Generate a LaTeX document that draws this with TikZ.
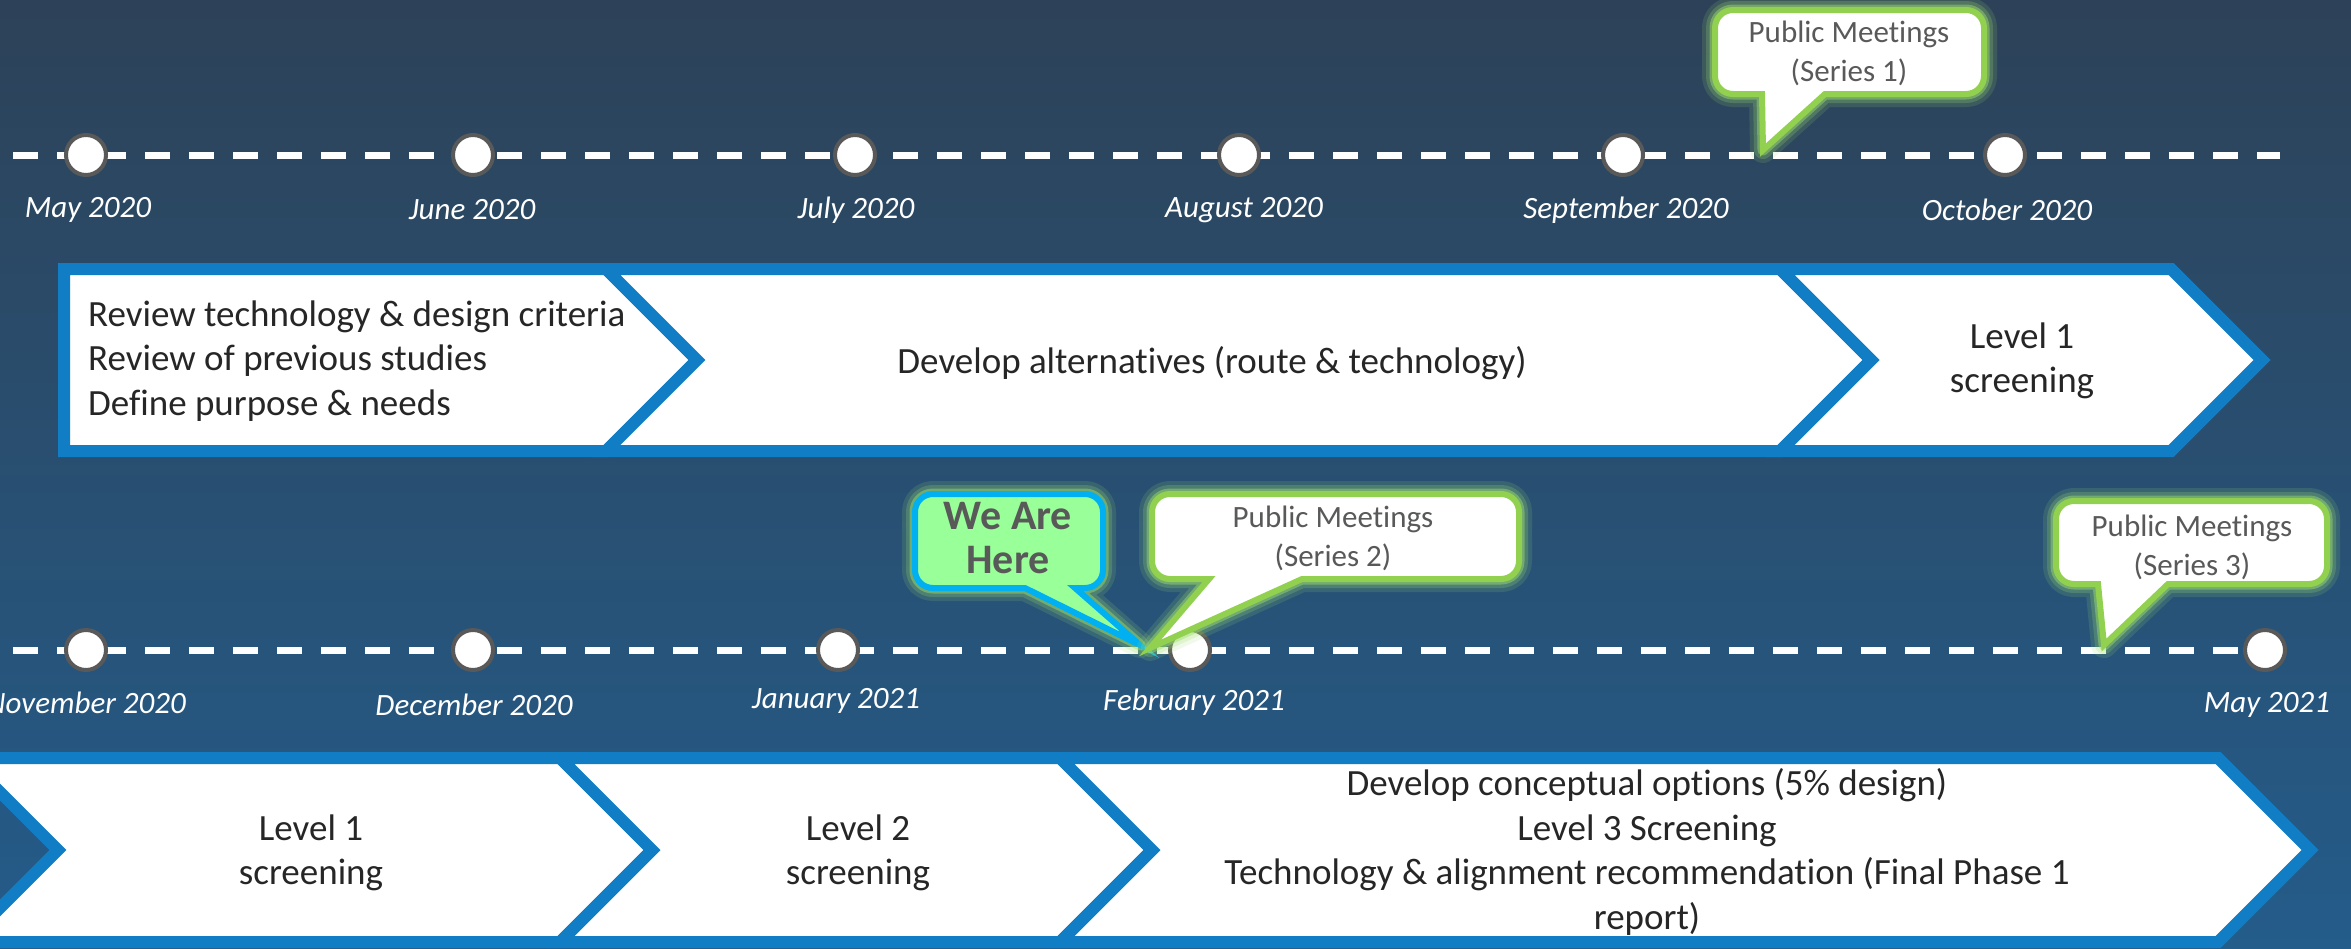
\documentclass[tikz,border=0pt]{standalone}
\usepackage{fontspec}
\setmainfont{Carlito}[Ligatures=NoCommon]
\definecolor{bluebd}{RGB}{17,125,196}
\definecolor{bgtop}{RGB}{45,66,88}
\definecolor{bgbot}{RGB}{36,92,138}
\definecolor{topln}{RGB}{70,135,200}
\definecolor{gbd}{RGB}{146,208,80}
\definecolor{glowc}{RGB}{160,225,110}
\definecolor{cyanbd}{RGB}{0,176,240}
\definecolor{wahfill}{RGB}{153,255,153}
\definecolor{txt}{RGB}{38,38,38}
\definecolor{ctxt}{RGB}{89,89,89}
\definecolor{dotbd}{RGB}{89,89,89}
\tikzset{
  dashline/.style={white, line width=7pt, dash pattern=on 25pt off 19pt},
  dot/.style={circle, fill=white, draw=dotbd, line width=4pt, minimum size=40pt, inner sep=0pt},
  datelbl/.style={text=white, inner sep=0pt, font=\fontsize{31}{37}\selectfont\itshape},
  chev/.style={fill=white, draw=bluebd, line width=12pt, line join=miter},
  chevopen/.style={draw=bluebd, line width=12pt, line join=miter},
  boxtxt/.style={text=txt, inner sep=0pt, align=center, font=\fontsize{37}{44.5}\selectfont},
  glowA/.style={draw=glowc, line width=26pt, opacity=0.14, line join=round},
  glowB/.style={draw=glowc, line width=18pt, opacity=0.22, line join=round},
  glowC/.style={draw=glowc, line width=11pt, opacity=0.45, line join=round},
  callg/.style={fill=white, draw=gbd, line width=6pt, line join=miter},
  callw/.style={fill=wahfill, draw=cyanbd, line width=6pt, line join=miter},
  calltxt/.style={text=ctxt, inner sep=0pt, align=center, font=\fontsize{31}{39}\selectfont},
}
% rounded callout outlines (corner radius 18)
\def\pathA{(1762,94) -- (1763,150) -- (1825,94) -- (1966,94) .. controls (1976,94) and (1984,86) .. (1984,76) -- (1984,28) .. controls (1984,18) and (1976,10) .. (1966,10) -- (1733,10) .. controls (1723,10) and (1715,18) .. (1715,28) -- (1715,76) .. controls (1715,86) and (1723,94) .. (1733,94) -- cycle}
\def\pathW{(1025,588) -- (1140,645) -- (1075,588) -- (1085,588) .. controls (1095,588) and (1103,580) .. (1103,570) -- (1103,512) .. controls (1103,502) and (1095,494) .. (1085,494) -- (933,494) .. controls (923,494) and (915,502) .. (915,512) -- (915,570) .. controls (915,580) and (923,588) .. (933,588) -- cycle}
\def\pathB{(1209,579) -- (1150,648) -- (1302,579) -- (1501,579) .. controls (1511,579) and (1519,571) .. (1519,561) -- (1519,512) .. controls (1519,502) and (1511,494) .. (1501,494) -- (1170,494) .. controls (1160,494) and (1152,502) .. (1152,512) -- (1152,561) .. controls (1152,571) and (1160,579) .. (1170,579) -- cycle}
\def\pathC{(2098,584) -- (2104,645) -- (2168,584) -- (2309,584) .. controls (2319,584) and (2327,576) .. (2327,566) -- (2327,519) .. controls (2327,509) and (2319,501) .. (2309,501) -- (2074,501) .. controls (2064,501) and (2056,509) .. (2056,519) -- (2056,566) .. controls (2056,576) and (2064,584) .. (2074,584) -- cycle}
\begin{document}
\begin{tikzpicture}[x=1pt, y=-1pt]
\useasboundingbox (0pt,0pt) rectangle (2351pt,-948pt);
\clip (0pt,0pt) rectangle (2351pt,-948pt);
\shade[top color=bgtop, bottom color=bgbot] (0pt,0pt) rectangle (2351pt,-948pt);
\shade[left color=bgtop, middle color=topln, right color=bgtop] (0pt,0pt) rectangle (1300pt,-2.5pt);

% ---------- top timeline ----------
\coordinate (tl) at (13,155);
\coordinate (tr) at (2280,155);
\draw[dashline] (tl) -- (tr);
\node[dot] (d1) at (86,155) {};
\node[dot] (d2) at (473,155) {};
\node[dot] (d3) at (855,155) {};
\node[dot] (d4) at (1239,155) {};
\node[dot] (d5) at (1623,155) {};
\node[dot] (d6) at (2005,155) {};
\node[datelbl] (l1) at (88,210) {May 2020};
\node[datelbl] (l2) at (472,210) {June 2020};
\node[datelbl] (l3) at (856,210) {July 2020};
\node[datelbl] (l4) at (1244,210) {August 2020};
\node[datelbl] (l5) at (1626,210) {September 2020};
\node[datelbl] (l6) at (2007,210) {October 2020};

% ---------- top chevrons ----------
\draw[chev] (64,269) -- (606,269) -- (697,360) -- (606,451) -- (64,451) -- cycle;
\draw[chev] (606,269) -- (1780,269) -- (1871,360) -- (1780,451) -- (606,451) -- (697,360) -- cycle;
\draw[chev] (1780,269) -- (2171,269) -- (2262,360) -- (2171,451) -- (1780,451) -- (1871,360) -- cycle;
\node[boxtxt, align=left, anchor=west] (s1) at (88,361) {Review technology \& design criteria\\Review of previous studies\\Define purpose \& needs};
\node[boxtxt] (s2) at (1212,363) {Develop alternatives (route \& technology)};
\node[boxtxt] (s3) at (2022,361) {Level 1\\screening};

% ---------- bottom timeline ----------
\coordinate (bl) at (13,650);
\coordinate (br) at (2245,650);
\draw[dashline] (bl) -- (br);
\node[dot] (e1) at (86,650) {};
\node[dot] (e2) at (473,650) {};
\node[dot] (e3) at (838,650) {};
\node[dot] (e4) at (1190,650) {};
\node[dot] (e5) at (2265,650) {};
\node[datelbl, anchor=east] (m1) at (186,703) {November 2020};
\node[datelbl] (m2) at (474,705) {December 2020};
\node[datelbl] (m3) at (836,701) {January 2021};
\node[datelbl] (m4) at (1194,702) {February 2021};
\node[datelbl] (m5) at (2267,705) {May 2021};

% ---------- bottom chevrons ----------
\draw[chevopen] (-200,758) -- (-34,758) -- (58,850) -- (-34,942) -- (-200,942);
\draw[chev] (-34,758) -- (560,758) -- (652,850) -- (560,942) -- (-34,942) -- (58,850) -- cycle;
\draw[chev] (560,758) -- (1060,758) -- (1152,850) -- (1060,942) -- (560,942) -- (652,850) -- cycle;
\draw[chev] (1060,758) -- (2218,758) -- (2310,850) -- (2218,942) -- (1060,942) -- (1152,850) -- cycle;
\node[boxtxt] (b1) at (311,853) {Level 1\\screening};
\node[boxtxt] (b2) at (858,853) {Level 2\\screening};
\node[boxtxt] (b3) at (1647,852) {Develop conceptual options (5\% design)\\Level 3 Screening\\Technology \& alignment recommendation (Final Phase 1\\report)};

% ---------- callouts ----------
\path[glowA] \pathA; \path[glowB] \pathA; \path[glowC] \pathA; \path[callg] \pathA;
\node[calltxt] (c1) at (1849,53) {Public Meetings\\(Series 1)};

\path[glowA] \pathW; \path[glowB] \pathW; \path[glowC] \pathW; \path[callw] \pathW;
\node[text=ctxt, inner sep=0pt, align=center, font=\fontsize{42}{44}\selectfont\bfseries] (wah) at (1008,538) {We Are\\Here};

\path[glowA] \pathB; \path[glowB] \pathB; \path[glowC] \pathB; \path[callg] \pathB;
\node[calltxt] (c2) at (1333,538) {Public Meetings\\(Series 2)};

\path[glowA] \pathC; \path[glowB] \pathC; \path[glowC] \pathC; \path[callg] \pathC;
\node[calltxt] (c3) at (2192,547) {Public Meetings\\(Series 3)};
\end{tikzpicture}
\end{document}
